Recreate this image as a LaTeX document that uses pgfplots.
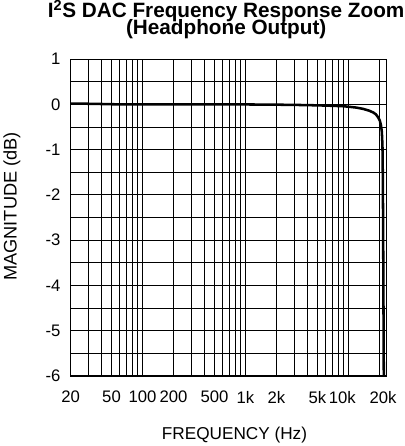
\documentclass[border=0pt]{standalone}
\usepackage{fontspec}
\setmainfont{Liberation Sans}
\usepackage{pgfplots}
\pgfplotsset{compat=1.18}
\begin{document}
\begin{tikzpicture}
\begin{axis}[
  scale only axis, width=311bp, height=312bp,
  xmode=log, xmin=20, xmax=23300, ymin=-6, ymax=1,
  xtick={20,50,100,200,500,1000,2000,5000,10000,20000},
  xticklabels={20,50,100,200,500,1k,2k,5k,\hspace*{-12bp}10k,20k\hspace*{-7bp}},
  minor xtick={30,40,50,60,70,80,90,200,300,400,500,600,700,800,900,2000,3000,4000,5000,6000,7000,8000,9000,20000},
  ytick={-6,-5,-4,-3,-2,-1,0,1},
  yticklabels={-6,-5,-4,-3,-2,-1,0,1},
  minor ytick={-5.5,-4.5,-3.5,-2.5,-1.5,-0.5,0.5},
  xmajorgrids, xminorgrids, ymajorgrids, yminorgrids,
  grid style={black, line width=0.9bp},
  major grid style={black, line width=0.9bp},
  minor grid style={black, line width=0.9bp},
  major tick length=0pt, minor tick length=0pt,
  axis line style={black, line width=1.2bp},
  tick label style={font=\fontsize{16.5}{18}\selectfont},
  yticklabel style={xshift=-6.5bp},
  xticklabel style={yshift=-11.5bp},
  xlabel={FREQUENCY (Hz)},
  ylabel={MAGNITUDE (dB)},
  xlabel style={font=\fontsize{17}{20}\selectfont, yshift=-16bp, xshift=6bp},
  ylabel style={font=\fontsize{18}{20}\selectfont, yshift=18bp, xshift=11bp},
  title={I\textsuperscript{2}S DAC Frequency Response Zoom\\[-5bp](Headphone Output)},
  title style={font=\bfseries\fontsize{20.5}{22}\selectfont, at={(rel axis cs:0.493,1.0433)}, anchor=south, align=center, inner sep=0pt},
]
\addplot[black, line width=2.5bp] coordinates {
(20,0.02) (25,0.02) (30,0.015) (40,0.01) (50,0.005) (70,0) (100,0) (1000,0)
(2000,-0.005) (3000,-0.01) (4000,-0.015) (5000,-0.02) (6000,-0.025) (7000,-0.03)
(8000,-0.035) (9000,-0.04) (10000,-0.05) (12000,-0.07) (14000,-0.1) (16000,-0.14)
(17500,-0.18) (18500,-0.22) (19500,-0.29) (20200,-0.36) (20700,-0.46) (21100,-0.6)
(21400,-0.9) (21550,-1.5) (21700,-2.5) (21800,-3.5) (21900,-4.5) (22000,-5.5) (22100,-6.5)
};
\end{axis}
\end{tikzpicture}
\end{document}
